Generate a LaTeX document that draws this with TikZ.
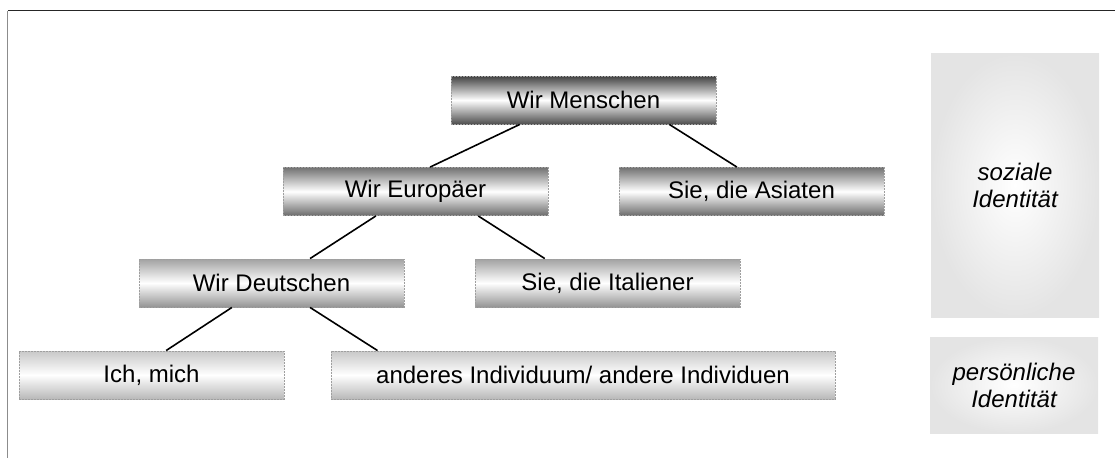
\documentclass[tikz,border=0pt]{standalone}
\usepackage{fontspec}
\setmainfont{Liberation Sans}
\usetikzlibrary{calc}
\definecolor{lvA}{HTML}{424242}
\definecolor{lvAb}{HTML}{4E4E4E}
\definecolor{lvB}{HTML}{727272}
\definecolor{lvBb}{HTML}{6C6C6C}
\definecolor{lvC}{HTML}{A2A2A2}
\definecolor{lvCb}{HTML}{949494}
\definecolor{lvD}{HTML}{C8C8C8}
\definecolor{lvDb}{HTML}{B8B8B8}
\definecolor{panelgray}{HTML}{E4E4E4}
\tikzset{
  grpbox/.style 2 args={draw=gray!75, line width=0.9pt, dash pattern=on 2pt off 1pt,
    minimum height=48pt, inner sep=0pt, font=\fontsize{24}{27}\selectfont,
    top color=#1, bottom color=#2, middle color=white},
  idpanel/.style={inner sep=0pt, inner color=white, outer color=panelgray,
    font=\fontsize{24}{27}\selectfont\itshape, align=center},
  conn/.style={line width=1.6pt, black},
  frameline/.style={line width=1.6pt}
}
\begin{document}
\begin{tikzpicture}[x=1pt,y=-1pt]
\useasboundingbox (0,0) rectangle (1115,458);
\coordinate (f1) at (1115,10.5);
\coordinate (f2) at (7.5,10.5);
\coordinate (f3) at (7.5,458);
\draw[frameline, black!85] (f1) -- (f2);
\draw[frameline, gray!90] (f2) -- (f3);

\node[grpbox={lvA}{lvAb}, minimum width=265pt] (m) at (583.5,100) {Wir Menschen};
\node[grpbox={lvB}{lvBb}, minimum width=265pt] (e) at (415.5,191.5) {Wir Europäer};
\node[grpbox={lvB}{lvBb}, minimum width=265pt] (a) at (751.5,191.5) {Sie, die Asiaten};
\node[grpbox={lvC}{lvCb}, minimum width=265pt] (d) at (271.5,283) {Wir Deutschen};
\node[grpbox={lvC}{lvCb}, minimum width=265pt] (i) at (607.5,283) {Sie, die Italiener};
\node[grpbox={lvD}{lvDb}, minimum width=265pt] (ich) at (151.5,375) {Ich, mich};
\node[grpbox={lvD}{lvDb}, minimum width=504pt] (and) at (583,375) {anderes Individuum/ andere Individuen};

\node[idpanel, minimum width=168pt, minimum height=264pt] (soz) at (1015,185) {soziale\\Identität};
\node[idpanel, minimum width=168pt, minimum height=96pt] (per) at (1014,385) {persönliche\\Identität};

\draw[conn] ($(m.south west)!0.26!(m.south east)$) -- ($(e.north west)!0.555!(e.north east)$);
\draw[conn] ($(m.south west)!0.823!(m.south east)$) -- ($(a.north west)!0.445!(a.north east)$);
\draw[conn] ($(e.south west)!0.351!(e.south east)$) -- ($(d.north west)!0.645!(d.north east)$);
\draw[conn] ($(e.south west)!0.736!(e.south east)$) -- ($(i.north west)!0.264!(i.north east)$);
\draw[conn] ($(d.south west)!0.351!(d.south east)$) -- ($(ich.north west)!0.555!(ich.north east)$);
\draw[conn] ($(d.south west)!0.645!(d.south east)$) -- ($(and.north west)!0.093!(and.north east)$);
\end{tikzpicture}
\end{document}
